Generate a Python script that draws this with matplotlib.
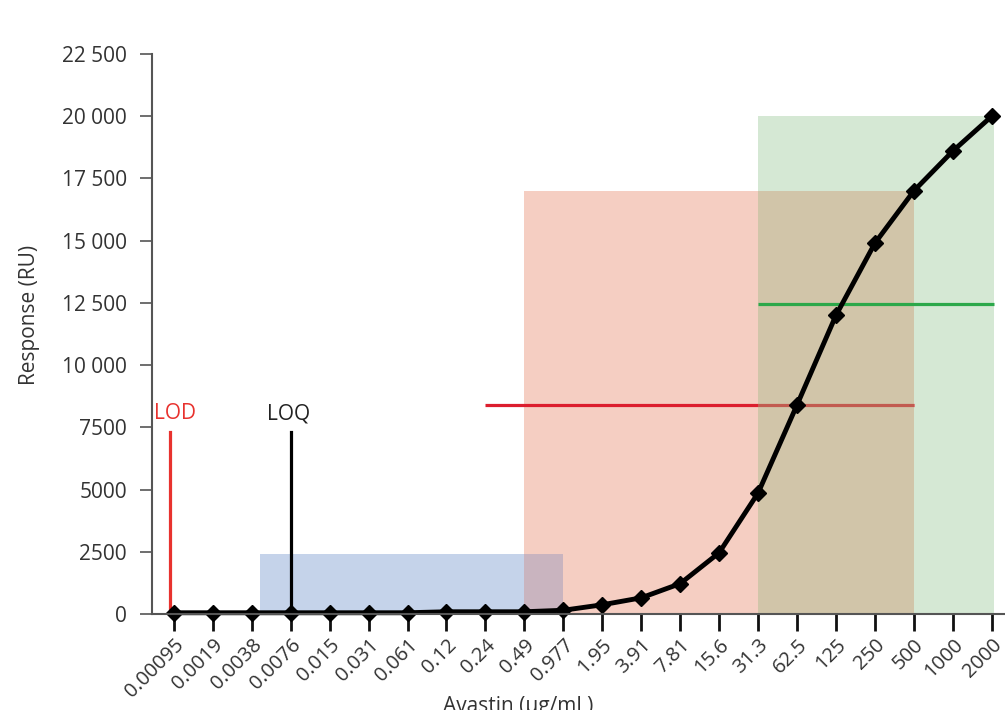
import matplotlib
matplotlib.use("Agg")
import matplotlib.pyplot as plt
from matplotlib.patches import Rectangle

plt.rcParams['font.family'] = ['Open Sans', 'DejaVu Sans']

# Avastin dilution series (ug/mL) and measured response (RU)
concentrations = ["0.00095", "0.0019", "0.0038", "0.0076", "0.015", "0.031", "0.061",
                  "0.12", "0.24", "0.49", "0.977", "1.95", "3.91", "7.81", "15.6",
                  "31.3", "62.5", "125", "250", "500", "1000", "2000"]
response = [50, 50, 50, 50, 50, 50, 50, 90, 90, 90, 150, 370, 650, 1220, 2460,
            4860, 8400, 12000, 14900, 17000, 18600, 20000]

# shaded ranges: (x start, x end, height) in category index units
blue_range = (2.2, 10.0, 2400)
red_range = (9.0, 19.0, 17000)
green_range = (15.0, 21.05, 20000)

# horizontal reference levels: (x start, x end, level)
red_level = (8.0, 19.0, 8400)
green_level = (15.0, 21.05, 12450)

lod_x, loq_x = -0.1, 3.0
lod_top = 7300

yticks = [0, 2500, 5000, 7500, 10000, 12500, 15000, 17500, 20000, 22500]
ytick_labels = ["0", "2500", "5000", "7500", "10 000", "12 500", "15 000",
                "17 500", "20 000", "22 500"]

fig = plt.figure(figsize=(10.05, 7.10), dpi=100)
ax = fig.add_axes([152 / 1005, 1 - 614 / 710, 1 - 152 / 1005, (614 - 54) / 710])

x = list(range(len(concentrations)))


def box(x0, x1, h, color, z, alpha=1.0):
    ax.add_patch(Rectangle((x0, 0), x1 - x0, h, facecolor=color, edgecolor='none',
                           alpha=alpha, zorder=z))


box(green_range[0], green_range[1], green_range[2], '#d5e8d4', 1)
box(red_range[0], red_range[1], red_range[2], '#f5cec2', 2)
box(blue_range[0], blue_range[1], blue_range[2], '#c5d3ea', 2)

# blue/red overlap
ov0 = max(blue_range[0], red_range[0])
ov1 = min(blue_range[1], red_range[1])
box(ov0, ov1, min(blue_range[2], red_range[2]), '#c9b4bf', 3)

ax.plot([red_level[0], red_level[1]], [red_level[2]] * 2, color='#dc1e2e', lw=2.3,
        solid_capstyle='butt', zorder=4)

# red/green overlap, laid over the red level line
ov0 = max(green_range[0], red_range[0])
ov1 = min(green_range[1], red_range[1])
box(ov0, ov1, min(green_range[2], red_range[2]), '#9bb884', 5, alpha=0.4)

ax.plot([green_level[0], green_level[1]], [green_level[2]] * 2, color='#2ca84a', lw=2.3,
        solid_capstyle='butt', zorder=6)

ax.plot([lod_x, lod_x], [0, lod_top], color='#e8322e', lw=2.3, zorder=6)
ax.plot([loq_x, loq_x], [0, lod_top], color='black', lw=2.3, zorder=6)
ax.text(-0.5, 8050, "LOD", color='#e8322e', fontsize=15, ha='left', va='center', zorder=10)
ax.text(loq_x - 0.05, 8050, "LOQ", color='#222222', fontsize=15, ha='center',
        va='center', zorder=10)

ax.plot(x, response, color='black', lw=3.5, marker='D', ms=8, zorder=8,
        clip_on=False)

ax.set_xlim(-0.56, 21.34)
ax.set_ylim(0, 22500)

ax.set_yticks(yticks)
ax.set_yticklabels(ytick_labels)
ax.set_xticks(x)
ax.set_xticklabels(concentrations, rotation=45, ha='right', rotation_mode='anchor')

for s in ['top', 'right']:
    ax.spines[s].set_visible(False)
for s in ['left', 'bottom']:
    ax.spines[s].set_color('#555555')
    ax.spines[s].set_linewidth(1.5)
    ax.spines[s].set_zorder(9)

ax.tick_params(axis='y', length=9, width=1.2, color='#555555', labelsize=15,
               labelcolor='#333333', pad=9)
ax.tick_params(axis='x', length=12, width=2, color='#111111', labelsize=14.5,
               labelcolor='#333333', pad=3)

fig.text(30 / 1005, 1 - 315 / 710, "Response (RU)", rotation=90, fontsize=15,
         color='#333333', ha='center', va='center')
fig.text(518 / 1005, 1 - 712 / 710, "Avastin (µg/mL)", fontsize=15, color='#333333',
         ha='center', va='baseline')

fig.savefig("out.png", dpi=100)
